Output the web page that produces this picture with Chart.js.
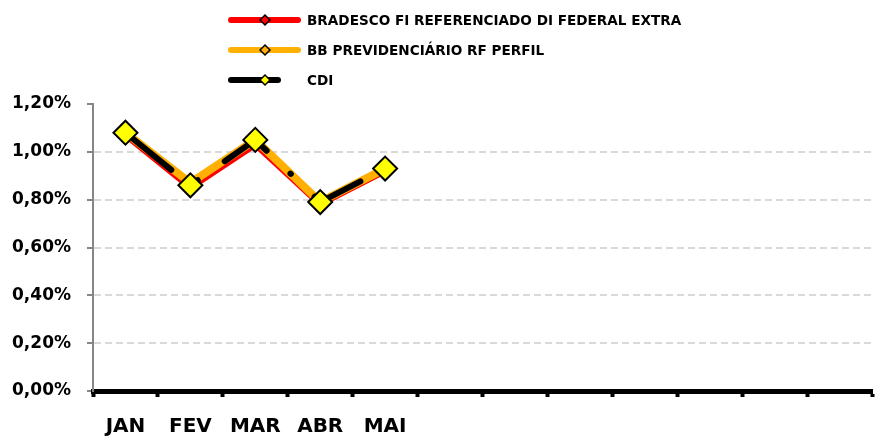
<!DOCTYPE html>
<html>
<head>
<meta charset="utf-8">
<script src="https://cdn.jsdelivr.net/npm/chart.js@4"></script>
<style>
  html, body { margin: 0; padding: 0; background: #fff; overflow: hidden; }
  #wrap { width: 886px; height: 437px; }
</style>
</head>
<body>
<div id="wrap"><canvas id="grafico" width="886" height="437"></canvas></div>
<script>
const meses = ['JAN', 'FEV', 'MAR', 'ABR', 'MAI', '', '', '', '', '', '', ''];
const nomes = ['BRADESCO FI REFERENCIADO DI FEDERAL EXTRA', 'BB PREVIDENCIÁRIO RF PERFIL', 'CDI'];
const bradesco = [1.07, 0.85, 1.03, 0.78, 0.92];
const bbPrev = [1.08, 0.87, 1.05, 0.79, 0.93];
const cdi = [1.08, 0.86, 1.05, 0.79, 0.93];
const yMin = 0;
const yMax = 1.2;
const yPasso = 0.2;

const corMarcadorLegenda = ['#ff0000', '#ffb000', '#ffff00'];
const fonte = 'DejaVu Sans';

// legenda em coluna, como no excel
const legendaVertical = {
    id: 'legendaVertical',
    afterDraw: function(chart) {
        const ctx = chart.ctx;
        chart.data.datasets.forEach(function(ds, i) {
            const y = 20 + i * 30;
            ctx.save();
            ctx.strokeStyle = ds.borderColor;
            ctx.lineWidth = 6;
            ctx.lineCap = 'round';
            if (ds.borderDash) {
                ctx.setLineDash(ds.borderDash);
                ctx.beginPath(); ctx.moveTo(231, y); ctx.lineTo(278, y); ctx.stroke();
            } else {
                ctx.beginPath(); ctx.moveTo(231, y); ctx.lineTo(298, y); ctx.stroke();
            }
            ctx.setLineDash([]);
            ctx.beginPath();
            ctx.moveTo(260, y); ctx.lineTo(265, y - 5); ctx.lineTo(270, y); ctx.lineTo(265, y + 5);
            ctx.closePath();
            ctx.fillStyle = corMarcadorLegenda[i];
            ctx.fill();
            ctx.lineWidth = 1.5;
            ctx.strokeStyle = '#000';
            ctx.stroke();
            ctx.fillStyle = '#000';
            ctx.font = 'bold 13.6px "' + fonte + '"';
            ctx.textBaseline = 'middle';
            ctx.fillText(ds.label, 307, y + 1);
            ctx.restore();
        });
    }
};

const grafico = new Chart(document.getElementById('grafico'), {
    type: 'line',
    data: {
        labels: meses,
        datasets: [
            {
                label: nomes[0],
                data: bradesco,
                borderColor: '#ff0000',
                borderWidth: 6,
                pointRadius: 0,
                order: 3
            },
            {
                label: nomes[1],
                data: bbPrev,
                borderColor: '#ffb000',
                borderWidth: 8,
                pointRadius: 0,
                order: 2
            },
            {
                label: nomes[2],
                data: cdi,
                borderColor: '#000000',
                borderWidth: 6,
                borderDash: [53, 33, 0.5, 33],
                borderDashOffset: -6,
                borderCapStyle: 'round',
                pointStyle: 'rectRot',
                pointRadius: 12,
                pointBackgroundColor: '#ffff00',
                pointBorderColor: '#000000',
                pointBorderWidth: 2,
                order: 1
            }
        ]
    },
    options: {
        responsive: false,
        animation: false,
        devicePixelRatio: 1,
        layout: { padding: { top: 104, left: 0, right: 0, bottom: 0 } },
        elements: { line: { tension: 0, borderJoinStyle: 'round' } },
        plugins: {
            legend: { display: false },
            tooltip: { enabled: false }
        },
        scales: {
            x: {
                offset: true,
                grid: {
                    display: true,
                    offset: true,
                    drawOnChartArea: false,
                    drawTicks: true,
                    tickLength: 6,
                    tickColor: '#000',
                    tickWidth: 4
                },
                border: { display: true, color: '#000', width: 5 },
                ticks: {
                    color: '#000',
                    font: { family: fonte, weight: 'bold', size: 20 },
                    padding: 18,
                    maxRotation: 0,
                    autoSkip: false
                },
                afterFit: function(scale) { scale.height = 46; }
            },
            y: {
                min: yMin,
                max: yMax,
                ticks: {
                    stepSize: yPasso,
                    padding: 16,
                    color: '#000',
                    font: { family: fonte, weight: 'bold', size: 17 },
                    callback: function(v) { return v.toFixed(2).replace('.', ',') + '%'; }
                },
                grid: {
                    color: function(c) {
                        if (c.tick && (c.tick.value < 0.01 || c.tick.value > 1.19)) return 'rgba(0,0,0,0)';
                        return '#d9d9d9';
                    },
                    lineWidth: 2,
                    tickBorderDash: [],
                    tickColor: '#868686',
                    tickWidth: 2,
                    tickLength: 6
                },
                border: { color: '#868686', width: 2, dash: [7, 4] },
                afterFit: function(scale) { scale.width = 93; }
            }
        }
    },
    plugins: [legendaVertical]
});
</script>
</body>
</html>
